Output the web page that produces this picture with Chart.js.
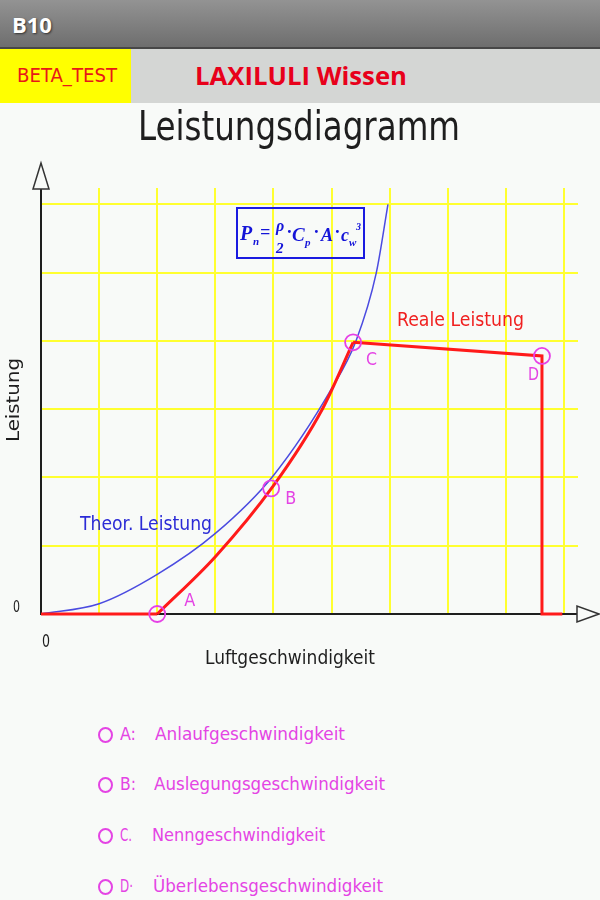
<!DOCTYPE html>
<html>
<head>
<meta charset="utf-8">
<script src="https://cdn.jsdelivr.net/npm/chart.js@4.4.1/dist/chart.umd.min.js"></script>
<style>
  html, body { margin:0; padding:0; }
  body { width:600px; height:900px; background:#f8faf8; position:relative; overflow:hidden;
         font-family:"DejaVu Sans Condensed","DejaVu Sans",sans-serif; }
  #bar { position:absolute; left:0; top:0; width:600px; height:47px;
         background:linear-gradient(#939393,#6e6e6e); border-bottom:2px solid #474747; }
  #bar span { position:absolute; left:12px; top:9px; color:#fff; font:bold 22px "Open Sans","DejaVu Sans",sans-serif;
              text-shadow:1px 1px 2px #333; }
  #row { position:absolute; left:0; top:49px; width:600px; height:54px; background:#d4d6d4; }
  #beta { position:absolute; left:0; top:0; width:131px; height:54px; background:#ffff00; }
  .fit { position:absolute; white-space:nowrap; display:inline-block; transform-origin:0 0; line-height:1; }
  #chartBox { position:absolute; left:0; top:103px; width:600px; height:597px; }
  .opt { color:#e444e4; font-size:18px; }
  .ring { position:absolute; width:11px; height:12px; border:2px solid #e444e4; border-radius:50%; }
</style>
</head>
<body>
<div id="bar"><span>B10</span></div>
<div id="row">
  <div id="beta"></div>
  <div class="fit" data-w="100" style="left:17px; top:17px; color:#e81818; font-size:19px;">BETA_TEST</div>
  <div class="fit" data-w="212" style="left:195px; top:9px; color:#e8001a; font:bold 25px 'Open Sans','DejaVu Sans',sans-serif;">LAXILULI Wissen</div>
</div>
<div id="chartBox"><canvas id="leistung" width="600" height="597"></canvas></div>

<div class="ring" style="left:98px; top:727px;"></div>
<div class="fit opt" data-w="16" style="left:120px; top:725px;">A:</div>
<div class="fit opt" data-w="190" style="left:155px; top:725px;">Anlaufgeschwindigkeit</div>
<div class="ring" style="left:98px; top:777px;"></div>
<div class="fit opt" data-w="16" style="left:120px; top:775px;">B:</div>
<div class="fit opt" data-w="231" style="left:154px; top:775px;">Auslegungsgeschwindigkeit</div>
<div class="ring" style="left:98px; top:828px;"></div>
<div class="fit opt" data-w="12" style="left:120px; top:826px;">C.</div>
<div class="fit opt" data-w="173" style="left:152px; top:826px;">Nenngeschwindigkeit</div>
<div class="ring" style="left:98px; top:879px;"></div>
<div class="fit opt" data-w="13" style="left:120px; top:877px;">D·</div>
<div class="fit opt" data-w="230" style="left:153px; top:877px;">Überlebensgeschwindigkeit</div>

<script>
// ---------------- Daten ----------------
const theorX = [0, 1, 2, 3, 4, 5, 5.42, 5.77, 5.97];
const theorY = [0, 0.15, 0.58, 1.18, 2.03, 3.3, 4, 5, 6];

const realCurveX = [2, 3, 4, 4.84, 5.37];
const realCurveY = [0, 0.84, 1.88, 3, 3.98];

const realStartX = [0, 2];
const realStartY = [0, 0];
const realEndX = [5.37, 8.62, 8.62, 8.97];
const realEndY = [3.98, 3.78, 0, 0];

const pointNames = ['A', 'B', 'C', 'D'];
const pointX = [2, 3.96, 5.37, 8.62];
const pointY = [0, 1.84, 3.98, 3.78];

const xMax = 9.24;   // Achsenende
const yMax = 6.24;

function toXY(xs, ys){
  return xs.map((x, i) => ({x: x, y: ys[i]}));
}

// HTML-Texte auf Breite bringen
document.querySelectorAll('.fit').forEach(el => {
  const w = el.getBoundingClientRect().width;
  el.style.transform = 'scaleX(' + (parseFloat(el.dataset.w) / w) + ')';
});

const FONT = '"DejaVu Sans Condensed","DejaVu Sans",sans-serif';

function fitText(ctx, str, x, y, w, size, color){
  ctx.save();
  ctx.font = size + 'px ' + FONT;
  ctx.fillStyle = color;
  ctx.textAlign = 'left';
  ctx.textBaseline = 'alphabetic';
  const m = ctx.measureText(str).width;
  ctx.translate(x, y);
  ctx.scale(w / m, 1);
  ctx.fillText(str, 0, 0);
  ctx.restore();
}

function serif(ctx, str, x, y, size){
  ctx.font = 'bold italic ' + size + 'px "Liberation Serif","DejaVu Serif",serif';
  ctx.fillText(str, x, y);
}

//=========================Beschriftung / Pfeile============================
const deko = {
  id: 'deko',
  afterDatasetsDraw(chart){
    const ctx = chart.ctx;
    const a = chart.chartArea;
    const sx = chart.scales.x, sy = chart.scales.y;

    // Pfeile
    ctx.save();
    ctx.strokeStyle = '#333';
    ctx.lineWidth = 1.5;
    ctx.fillStyle = '#f8faf8';
    ctx.beginPath();
    ctx.moveTo(a.left, a.top - 25);
    ctx.lineTo(a.left - 8, a.top + 1);
    ctx.lineTo(a.left + 8, a.top + 1);
    ctx.closePath();
    ctx.fill(); ctx.stroke();
    ctx.beginPath();
    ctx.moveTo(a.right + 21, a.bottom);
    ctx.lineTo(a.right - 1, a.bottom - 8);
    ctx.lineTo(a.right - 1, a.bottom + 8);
    ctx.closePath();
    ctx.fill(); ctx.stroke();
    ctx.restore();

    // Titel und Achsen
    fitText(ctx, 'Leistungsdiagramm', 138, 37, 322, 40, '#1e1e1e');
    ctx.save();
    ctx.translate(19, 297);
    ctx.rotate(-Math.PI / 2);
    fitText(ctx, 'Leistung', -42, 0, 84, 18, '#1e1e1e');
    ctx.restore();
    fitText(ctx, '0', 13, 509, 7, 16, '#1e1e1e');
    fitText(ctx, '0', 42, 544, 8, 18, '#1e1e1e');
    fitText(ctx, 'Luftgeschwindigkeit', 205, 561, 170, 19, '#1e1e1e');

    fitText(ctx, 'Theor. Leistung', 80, 427, 132, 19, '#2b2bd6');
    fitText(ctx, 'Reale Leistung', 397, 223, 127, 19, '#f02020');

    // Punktnamen
    const off = [[27, -8], [14, 16], [13, 23], [-14, 24]];
    pointNames.forEach((n, i) => {
      const px = sx.getPixelForValue(pointX[i]);
      const py = sy.getPixelForValue(pointY[i]);
      fitText(ctx, n, px + off[i][0], py + off[i][1], 11, 18, '#e444e4');
    });

    // Formel
    ctx.save();
    ctx.strokeStyle = '#1a1ae0';
    ctx.lineWidth = 2;
    ctx.strokeRect(237, 105, 127, 50);
    ctx.fillStyle = '#1414d8';
    serif(ctx, 'P', 240, 137, 20);
    serif(ctx, 'n', 253, 142, 11);
    serif(ctx, '=', 260, 135, 18);
    serif(ctx, 'ρ', 276, 128, 16);
    serif(ctx, '2', 276, 150, 15);
    serif(ctx, '·', 287, 135, 18);
    serif(ctx, 'C', 292, 138, 19);
    serif(ctx, 'p', 305, 143, 11);
    serif(ctx, '·', 314, 135, 18);
    serif(ctx, 'A', 321, 138, 18);
    serif(ctx, '·', 335, 135, 18);
    serif(ctx, 'c', 341, 138, 18);
    serif(ctx, 'w', 349, 143, 11);
    serif(ctx, '3', 356, 127, 10);
    ctx.restore();
  }
};

function gridColor(c){
  return c.tick.value === 0 ? 'rgba(0,0,0,0)' : '#ffff30';
}

new Chart(document.getElementById('leistung'), {
  type: 'scatter',
  data: {
    datasets: [
      {
        label: 'Punkte',
        data: toXY(pointX, pointY),
        showLine: false,
        pointStyle: 'circle',
        pointRadius: 8,
        borderColor: '#e640e6',
        borderWidth: 1.8,
        backgroundColor: 'rgba(0,0,0,0)',
        clip: false,
        order: 0
      },
      {
        label: 'Reale Leistung',
        data: toXY(realCurveX, realCurveY),
        showLine: true,
        cubicInterpolationMode: 'monotone',
        borderColor: '#ff1a1a',
        borderWidth: 3,
        pointRadius: 0,
        clip: false,
        order: 1
      },
      {
        label: 'Reale Leistung 1',
        data: toXY(realStartX, realStartY),
        showLine: true,
        borderColor: '#ff1a1a',
        borderWidth: 3,
        pointRadius: 0,
        clip: false,
        order: 1
      },
      {
        label: 'Reale Leistung 2',
        data: toXY(realEndX, realEndY),
        showLine: true,
        borderColor: '#ff1a1a',
        borderWidth: 3,
        pointRadius: 0,
        clip: false,
        order: 1
      },
      {
        label: 'Theor. Leistung',
        data: toXY(theorX, theorY),
        showLine: true,
        cubicInterpolationMode: 'monotone',
        borderColor: '#4b4be0',
        borderWidth: 1.5,
        pointRadius: 0,
        clip: false,
        order: 2
      }
    ]
  },
  options: {
    responsive: false,
    animation: false,
    layout: { padding: { left: 41, right: 22, top: 85, bottom: 86 } },
    plugins: { legend: { display: false }, tooltip: { enabled: false } },
    scales: {
      x: {
        type: 'linear', min: 0, max: xMax,
        ticks: { display: false, stepSize: 1, includeBounds: false },
        grid: { color: gridColor, lineWidth: 2, drawTicks: false },
        border: { display: true, color: '#1e1e1e', width: 2 }
      },
      y: {
        type: 'linear', min: 0, max: yMax,
        ticks: { display: false, stepSize: 1, includeBounds: false },
        grid: { color: gridColor, lineWidth: 2, drawTicks: false },
        border: { display: true, color: '#1e1e1e', width: 2 }
      }
    }
  },
  plugins: [deko]
});
</script>
</body>
</html>
